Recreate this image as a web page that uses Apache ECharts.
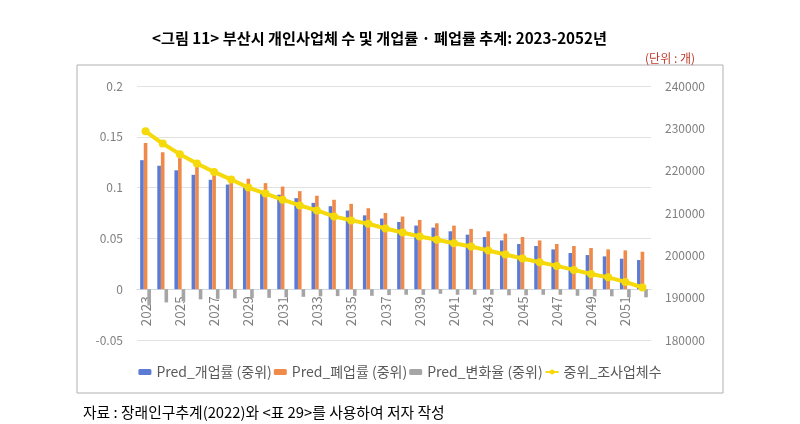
<!DOCTYPE html>
<html><head><meta charset="utf-8">
<script src="https://cdn.jsdelivr.net/npm/echarts@6/dist/echarts.min.js"></script>
<style>html,body{margin:0;padding:0;background:#fff}#c{width:800px;height:424px}</style>
</head><body><div id="c"></div>
<script>
const years = ['2023','2024','2025','2026','2027','2028','2029','2030','2031','2032','2033','2034','2035','2036','2037','2038','2039','2040','2041','2042','2043','2044','2045','2046','2047','2048','2049','2050','2051','2052'];
const openRate = [0.127,0.1215,0.117,0.1126,0.1077,0.103,0.100,0.096,0.093,0.0896,0.085,0.0817,0.0774,0.0727,0.0695,0.0662,0.0626,0.0606,0.057,0.0537,0.0514,0.048,0.0445,0.0425,0.0392,0.0356,0.0336,0.0323,0.030,0.0287];
const closeRate = [0.144,0.1347,0.129,0.121,0.116,0.110,0.1087,0.1044,0.101,0.0965,0.092,0.088,0.084,0.0797,0.075,0.0715,0.0682,0.0649,0.0626,0.0593,0.057,0.0547,0.0514,0.048,0.0445,0.0425,0.0405,0.0392,0.0382,0.0369];
const changeRate = [-0.016,-0.013,-0.012,-0.010,-0.0095,-0.009,-0.0088,-0.0085,-0.008,-0.0075,-0.007,-0.0068,-0.0065,-0.0065,-0.0058,-0.0055,-0.0056,-0.0045,-0.0055,-0.0055,-0.0055,-0.006,-0.006,-0.0055,-0.0055,-0.0065,-0.007,-0.007,-0.008,-0.008];
const firmCount = [229300,226400,223900,221700,219700,217900,216000,214600,213150,211800,210600,209200,208250,207460,206350,205400,204450,203670,202870,202090,201140,200190,199240,198370,197500,196560,195600,194800,193720,192400];
const seriesNames = ['Pred_개업률 (중위)','Pred_폐업률 (중위)','Pred_변화율 (중위)','중위_조사업체수'];
const titleText = '<그림 11> 부산시 개인사업체 수 및 개업률 · 폐업률 추계: 2023-2052년';
const unitText = '(단위 : 개)';
const sourceText = '자료 : 장래인구추계(2022)와 <표 29>를 사용하여 저자 작성';

const FONT = '"Noto Sans CJK KR", "Noto Sans", sans-serif';
const chart = echarts.init(document.getElementById('c'), null, {renderer:'canvas'});
const axisLabelStyle = {color:'#7f7f7f', fontSize:12, fontFamily:FONT};
const gridTop = 86, gridBottom = 84, chartH = 424;
const yMin = -0.05, yMax = 0.2;
// place the category axis at value 0 of the left axis
const zeroOffset = -(chartH - gridTop - gridBottom) * (0 - yMin) / (yMax - yMin);
chart.setOption({
  animation:false,
  textStyle:{fontFamily:FONT},
  title:[
    {text:titleText, left:147, top:26, textStyle:{fontSize:15.2, fontWeight:'bold', color:'#000', fontFamily:FONT}},
    {text:unitText, right:100, top:47, textStyle:{fontSize:12, fontWeight:'normal', color:'#c0392b', fontFamily:FONT}},
    {text:sourceText, left:78, top:400, textStyle:{fontSize:14.8, fontWeight:'normal', color:'#000', fontFamily:FONT}}
  ],
  graphic:[{type:'rect', shape:{x:77, y:65, width:646, height:328}, style:{fill:'none', stroke:'#b0b0b0', lineWidth:1}, silent:true}],
  legend:{
    data:seriesNames, left:'center', top:360, itemGap:2, itemWidth:13, itemHeight:6,
    textStyle:{color:'#595959', fontSize:14, fontFamily:FONT}
  },
  grid:{left:137, right:149, top:gridTop, bottom:gridBottom},
  xAxis:{
    type:'category', data:years, offset:zeroOffset,
    axisLine:{onZero:false, lineStyle:{color:'#d0d8e4'}},
    axisTick:{show:false},
    axisLabel:{rotate:90, interval:1, color:'#7f7f7f', fontSize:13.5, fontFamily:FONT, margin:7}
  },
  yAxis:[
    {type:'value', min:yMin, max:yMax, interval:0.05,
     axisLine:{show:false, onZero:false}, axisTick:{show:false},
     axisLabel:Object.assign({margin:14, formatter:v=>String(Math.round(v*100)/100)}, axisLabelStyle),
     splitLine:{lineStyle:{color:'#e2e2e2'}}},
    {type:'value', min:180000, max:240000, interval:10000,
     axisLine:{show:false, onZero:false}, axisTick:{show:false},
     axisLabel:Object.assign({margin:14, formatter:v=>String(v)}, axisLabelStyle),
     splitLine:{show:false}}
  ],
  series:[
    {name:seriesNames[0], type:'bar', data:openRate, barWidth:3.6, barGap:'0%', itemStyle:{color:'#5b7bd5'}},
    {name:seriesNames[1], type:'bar', data:closeRate, barWidth:3.6, barGap:'0%', itemStyle:{color:'#ef8a4a'}},
    {name:seriesNames[2], type:'bar', data:changeRate, barWidth:3.6, barGap:'0%', itemStyle:{color:'#a5a5a5'}},
    {name:seriesNames[3], type:'line', yAxisIndex:1, data:firmCount, symbol:'circle', symbolSize:8,
     lineStyle:{width:4, color:'#f5d90a'}, itemStyle:{color:'#f5d90a'}, z:5}
  ]
});
</script></body></html>
